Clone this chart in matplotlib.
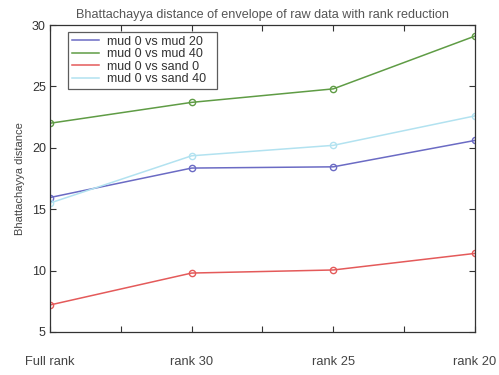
import numpy as np
import matplotlib.pyplot as plt

plt.rcParams['font.family'] = ['Liberation Sans', 'DejaVu Sans']

# rank steps and distances
ranks = [1, 2, 3, 4]
rank_labels = ['Full rank', 'rank 30', 'rank 25', 'rank 20']
mud0_mud20 = [15.95, 18.35, 18.45, 20.6]
mud0_mud40 = [22.0, 23.7, 24.8, 29.1]
mud0_sand0 = [7.2, 9.8, 10.05, 11.4]
mud0_sand40 = [15.5, 19.35, 20.2, 22.6]

series = [
    ('mud 0 vs mud 20', mud0_mud20, '#6b6bc4'),
    ('mud 0 vs mud 40', mud0_mud40, '#5f9c45'),
    ('mud 0 vs sand 0', mud0_sand0, '#e45a5a'),
    ('mud 0 vs sand 40', mud0_sand40, '#b2e2f0'),
]

fig = plt.figure(figsize=(4.99, 3.75), dpi=100)
ax = fig.add_axes([0.1002, 0.1147, 0.8517, 0.8186])

for name, vals, col in series:
    ax.plot(ranks, vals, color=col, lw=1.1, marker='o', ms=4.5,
            mfc='none', mec=col, mew=1.0, label=name)

ax.set_xlim(1, 4)
ax.set_ylim(5, 30)
ax.set_xticks(np.arange(1, 4.01, 0.5))
ax.set_xticklabels([])
ax.set_yticks([5, 10, 15, 20, 25, 30])
ax.tick_params(direction='in', length=4, width=0.8, top=True, right=True,
               labelsize=9, pad=3, colors='#333333')
for s in ax.spines.values():
    s.set_linewidth(0.9)
    s.set_color('#333333')

# rank names sit well below the axis
for x, lab in zip(ranks, rank_labels):
    ax.text(x, -0.098, lab, transform=ax.get_xaxis_transform(),
            ha='center', va='center', fontsize=9.3, color='#444444')

ax.set_ylabel('Bhattachayya distance', fontsize=8, color='#444444', labelpad=5)
ax.set_title('Bhattachayya distance of envelope of raw data with rank reduction',
             fontsize=9.1, color='#555555', pad=5)

leg = ax.legend(loc='upper left', bbox_to_anchor=(0.042, 0.0, 0.351, 0.978),
                mode='expand', fontsize=9, frameon=True, fancybox=False,
                handlelength=2.2, handletextpad=0.6, borderpad=0.3,
                labelspacing=0.05, borderaxespad=0)
leg.get_frame().set_edgecolor('#333333')
leg.get_frame().set_linewidth(0.9)
for h in leg.legend_handles:
    h.set_marker('')
for t in leg.get_texts():
    t.set_color('#333333')

fig.savefig('out.png', dpi=100)
